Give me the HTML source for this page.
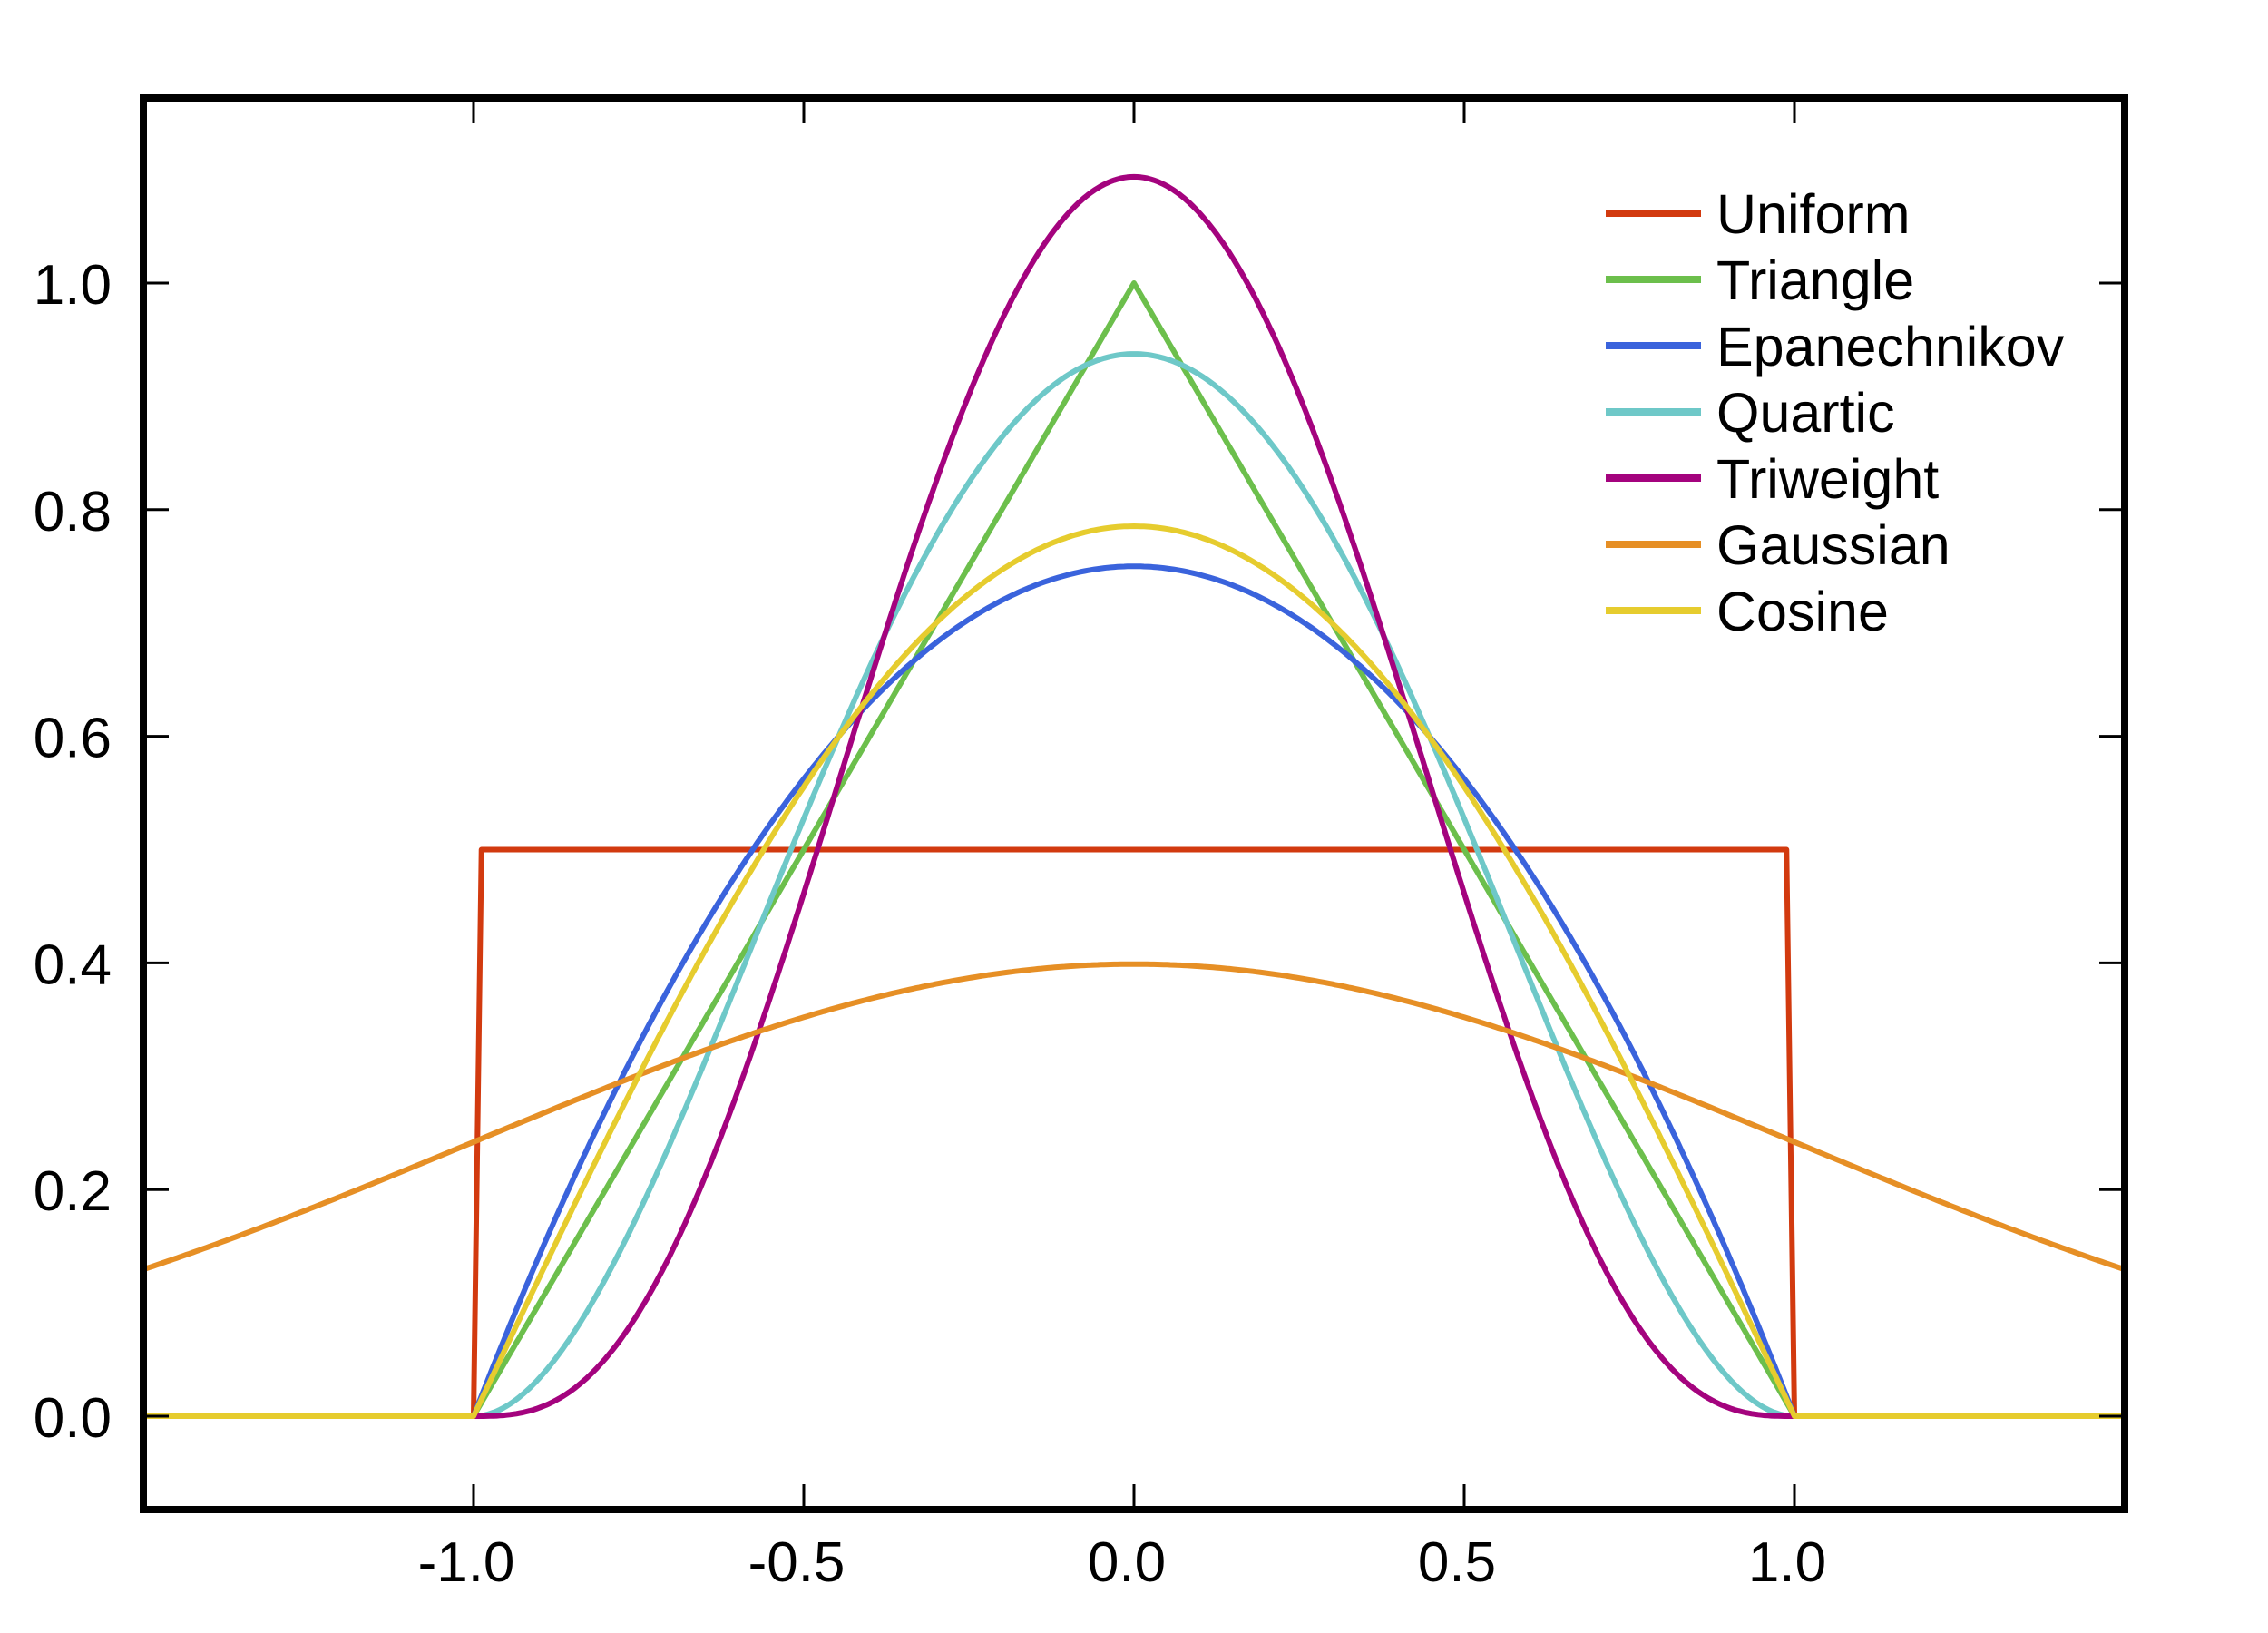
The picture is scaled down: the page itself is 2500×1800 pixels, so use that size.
<!DOCTYPE html>
<html><head><meta charset="utf-8"><style>
html,body{margin:0;padding:0;background:#fff;width:2500px;height:1800px;overflow:hidden}
svg{display:block}
text{font-family:"Liberation Sans",Arial,sans-serif;fill:#000}
</style></head><body>
<svg id="s" width="2500" height="1800" viewBox="0 0 2500 1800" xmlns="http://www.w3.org/2000/svg">
<g id="curves" fill="none" stroke-width="6" stroke-linejoin="round"></g>
<rect x="158" y="108" width="2184" height="1556" fill="none" stroke="#000" stroke-width="8"/>
<g stroke="#000" stroke-width="3" id="ticks"></g>
<g font-size="62" text-anchor="end" id="ylab"></g>
<g font-size="62" text-anchor="middle" id="xlab"></g>
<g font-size="61" id="legend"></g>
</svg>
<script>
var X0=1250,SX=728,Y0=1561,SY=1249,L=158,R=2342,T=108,B=1664;
function px(x){return X0+x*SX} function py(y){return Y0-y*SY}
var ns="http://www.w3.org/2000/svg";
function el(p,tag,a,t){var e=document.createElementNS(ns,tag);for(var k in a)e.setAttribute(k,a[k]);if(t!==undefined)e.textContent=t;document.getElementById(p).appendChild(e);return e}
var ks=[
["Uniform","#d23a0f",null],
["Triangle","#6cbf4c",function(u){return Math.abs(u)<=1?1-Math.abs(u):0}],
["Epanechnikov","#3a63dc",function(u){return Math.abs(u)<=1?0.75*(1-u*u):0}],
["Quartic","#6ec8c8",function(u){return Math.abs(u)<=1?15/16*Math.pow(1-u*u,2):0}],
["Triweight","#a4037e",function(u){return Math.abs(u)<=1?35/32*Math.pow(1-u*u,3):0}],
["Gaussian","#e68f25",function(u){return Math.exp(-u*u/2)/Math.sqrt(2*Math.PI)}],
["Cosine","#e6cc2e",function(u){return Math.abs(u)<=1?Math.PI/4*Math.cos(Math.PI*u/2):0}]
];
ks.forEach(function(k,i){
  var d;
  if(!k[2]){
    d="M"+L+","+py(0)+" L"+px(-1)+","+py(0)+" L"+px(-0.988)+","+py(0.5)+" L"+px(0.988)+","+py(0.5)+" L"+px(1)+","+py(0)+" L"+R+","+py(0);
  } else {
    var pts=[];
    var xs=[];
    for(var j=0;j<=600;j++){xs.push(-1.5+3*j/600);}
    xs.push(-1,1,0);xs.sort(function(a,b){return a-b});
    xs.forEach(function(x){pts.push(px(x).toFixed(1)+","+py(k[2](x)).toFixed(1))});
    d="M"+pts.join(" L");
  }
  el("curves","path",{d:d,stroke:k[1]});
  var ly=235+i*73;
  el("legend","line",{x1:1770,x2:1875,y1:ly,y2:ly,stroke:k[1],"stroke-width":8});
  el("legend","text",{x:1892,y:ly+22},k[0]);
});
[0,0.2,0.4,0.6,0.8,1.0].forEach(function(v){
  var y=py(v);
  el("ticks","line",{x1:L,x2:L+28,y1:y,y2:y});
  el("ticks","line",{x1:R-28,x2:R,y1:y,y2:y});
  el("ylab","text",{x:123,y:y+23},v.toFixed(1));
});
[-1,-0.5,0,0.5,1].forEach(function(v){
  var x=px(v);
  el("ticks","line",{x1:x,x2:x,y1:T,y2:T+28});
  el("ticks","line",{x1:x,x2:x,y1:B-28,y2:B});
  el("xlab","text",{x:x-8,y:1743},v.toFixed(1));
});
</script>
</body></html>
